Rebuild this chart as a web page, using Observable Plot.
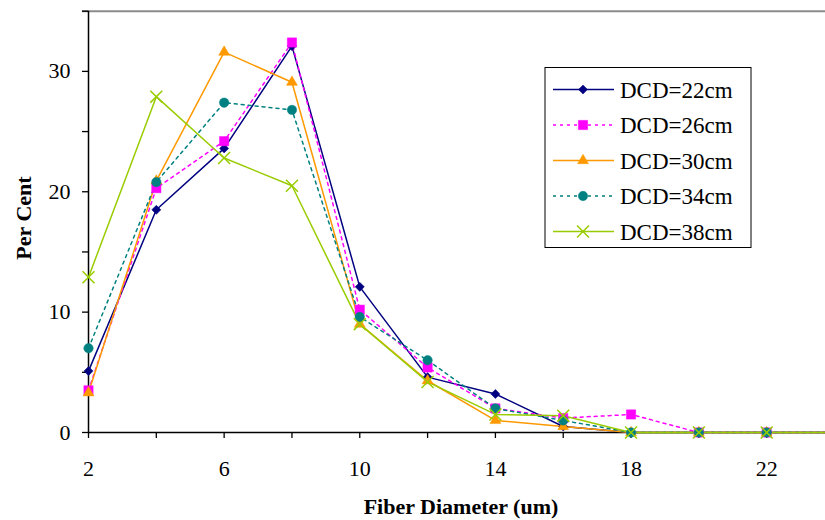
<!DOCTYPE html>
<html>
<head>
<meta charset="utf-8">
<script src="https://cdn.jsdelivr.net/npm/d3@7"></script>
<script src="https://cdn.jsdelivr.net/npm/@observablehq/plot@0.6"></script>
<style>
  html, body { margin: 0; padding: 0; background: #fff; overflow: hidden; }
  #chart { width: 825px; height: 520px; overflow: hidden; }
  #chart svg { overflow: hidden; }
  #chart svg text { font-family: "Liberation Serif", "Times New Roman", serif; }
</style>
</head>
<body>
<div id="chart"></div>
<script>
const diameters = [2, 4, 6, 8, 10, 12, 14, 16, 18, 20, 22, 24];
const seriesNames = ["DCD=22cm", "DCD=26cm", "DCD=30cm", "DCD=34cm", "DCD=38cm"];
const dcd22 = [5.1, 18.5, 23.6, 32.1, 12.1, 4.6, 3.2, 0.5, 0, 0, 0, 0];
const dcd26 = [3.5, 20.3, 24.2, 32.4, 10.2, 5.4, 2.0, 1.2, 1.5, 0, 0, 0];
const dcd30 = [3.3, 20.9, 31.6, 29.1, 9.0, 4.3, 1.0, 0.5, 0, 0, 0, 0];
const dcd34 = [7.0, 20.8, 27.4, 26.8, 9.6, 6.0, 2.0, 1.0, 0, 0, 0, 0];
const dcd38 = [12.9, 27.9, 22.8, 20.5, 9.0, 4.2, 1.5, 1.4, 0, 0, 0, 0];
const seriesValues = [dcd22, dcd26, dcd30, dcd34, dcd38];
const xTickLabels = [2, 6, 10, 14, 18, 22];
const yTickLabels = [0, 10, 20, 30];

const colors = ["#000080", "#FF00FF", "#FF9900", "#008080", "#99CC00"];
const dashes = [null, "3,4", null, "3,4", null];
const symbols = ["diamond2", "square2", "triangle2", "circle", "times"];
const dotR = [4.1, 5.9, 5.2, 4.7, 5.5];

const rows = [];
seriesNames.forEach((name, i) => {
  diameters.forEach((d, j) => rows.push({series: name, idx: i, x: d, y: seriesValues[i][j]}));
});

const W = 825, H = 520;
const marks = [];

// gray top border & axis lines
marks.push(Plot.ruleY([35], {stroke: "#8c8c8c", strokeWidth: 2, x1: 1.82, x2: 24}));
marks.push(Plot.axisY(d3.range(0, 36, 5), {label: null, tickSize: 6, tickPadding: 12, tickFormat: d => yTickLabels.includes(d) ? String(d) : "", fontSize: 22, fill: "#000", stroke: "#000", strokeWidth: 1.3}));
marks.push(Plot.axisX(d3.range(2, 25, 2), {label: null, tickSize: 6, tickPadding: 22, tickFormat: d => xTickLabels.includes(d) ? String(d) : "", fontSize: 22, fill: "#000", stroke: "#000", strokeWidth: 1.3}));
marks.push(Plot.ruleX([2], {stroke: "#000", strokeWidth: 1.5}));
marks.push(Plot.ruleY([0], {stroke: "#000", strokeWidth: 1.5}));

seriesNames.forEach((name, i) => {
  const data = rows.filter(r => r.idx === i);
  marks.push(Plot.line(data, {x: "x", y: "y", stroke: colors[i], strokeWidth: 1.5, strokeDasharray: dashes[i], curve: "linear"}));
});
seriesNames.forEach((name, i) => {
  const data = rows.filter(r => r.idx === i);
  const isStroke = symbols[i] === "times";
  marks.push(Plot.dot(data, {x: "x", y: "y", symbol: () => symbols[i], r: dotR[i],
    fill: isStroke ? "none" : colors[i], stroke: colors[i], strokeWidth: isStroke ? 1.5 : 0.5}));
});

const plot = Plot.plot({
  width: W, height: H,
  marginLeft: 88, marginRight: -9, marginTop: 10.7, marginBottom: 88,
  style: {background: "#fff", overflow: "hidden"},
  x: {type: "linear", domain: [2, 24], axis: null},
  y: {type: "linear", domain: [0, 35], axis: null},
  symbol: {type: "identity"},
  marks
});

document.getElementById("chart").appendChild(plot);

const svg = d3.select(plot);
// axis titles
svg.append("text").attr("x", 461).attr("y", 514).style("text-anchor", "middle")
  .style("font-weight", "bold").style("font-size", "22px").attr("fill", "#000")
  .text("Fiber Diameter (um)");
svg.append("text").attr("transform", "translate(31,218) rotate(-90)").style("text-anchor", "middle")
  .style("font-weight", "bold").style("font-size", "22px").attr("fill", "#000")
  .text("Per Cent");

// legend
const lg = svg.append("g");
lg.append("rect").attr("x", 545).attr("y", 67.5).attr("width", 206).attr("height", 180)
  .attr("fill", "#fff").attr("stroke", "#000").attr("stroke-width", 1);
const symGen = [d3.symbolDiamond2, d3.symbolSquare2, d3.symbolTriangle2, d3.symbolCircle, d3.symbolTimes];
seriesNames.forEach((name, i) => {
  const yy = 89.5 + i * 35.5;
  lg.append("line").attr("x1", 553).attr("x2", 614).attr("y1", yy).attr("y2", yy)
    .attr("stroke", colors[i]).attr("stroke-width", 1.5).attr("stroke-dasharray", dashes[i]);
  const isStroke = symbols[i] === "times";
  lg.append("path").attr("transform", `translate(583,${yy})`)
    .attr("d", d3.symbol(symGen[i], Math.PI * dotR[i] * dotR[i])())
    .attr("fill", isStroke ? "none" : colors[i]).attr("stroke", colors[i]).attr("stroke-width", isStroke ? 1.5 : 0.5);
  lg.append("text").attr("x", 620).attr("y", yy + 8).style("text-anchor", "start").style("font-size", "23px")
    .attr("fill", "#000").text(name);
});
</script>
</body>
</html>
